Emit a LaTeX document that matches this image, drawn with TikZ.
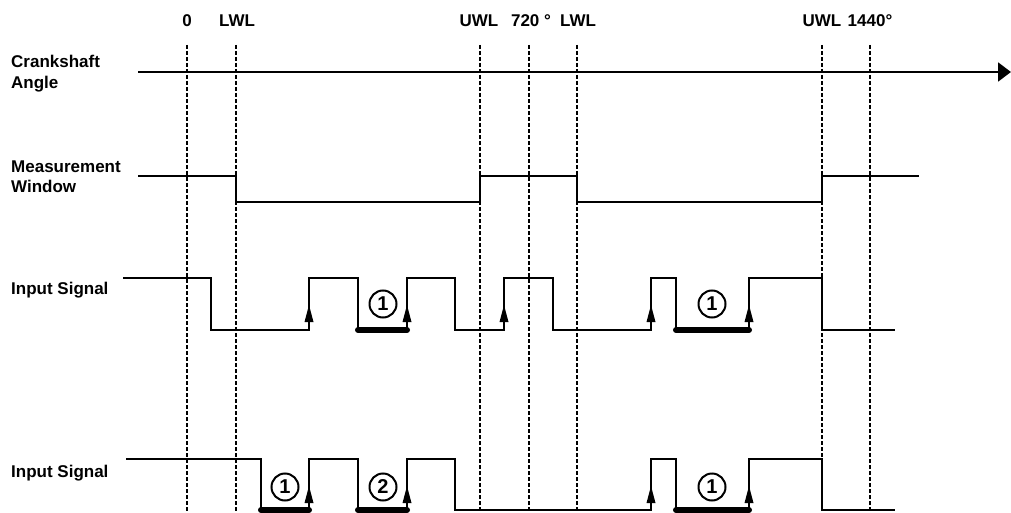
\documentclass[tikz,border=0pt]{standalone}
\usepackage{fontspec}
\setmainfont{Liberation Sans}
\usetikzlibrary{arrows.meta}
\tikzset{
  sig/.style={line width=2pt, line join=miter},
  guide/.style={line width=2pt, dash pattern=on 4pt off 2pt},
  bar/.style={line width=6pt, line cap=round},
  lbl/.style={anchor=base west, inner sep=0pt, font=\fontsize{17}{20}\selectfont\bfseries},
  toplbl/.style={anchor=base, inner sep=0pt, font=\fontsize{17}{20}\selectfont\bfseries},
  num/.style={circle, draw, line width=2pt, minimum size=27pt, inner sep=0pt, font=\fontsize{20}{22}\selectfont\bfseries},
}
\newcommand\riseArrow[2]{\fill (#1,#2) -- ++(-4.5,0) -- ++(4.5,-17) -- ++(4.5,17) -- cycle;}
\begin{document}
\begin{tikzpicture}[x=1pt,y=-1pt]
\useasboundingbox (0,0) rectangle (1011,513);
% top labels
\node[toplbl] (t0) at (187,27) {0};
\node[toplbl] (t1) at (237,27) {LWL};
\node[toplbl] (t2) at (479,27) {UWL};
\node[toplbl] (t3) at (531,27) {720 °};
\node[toplbl] (t4) at (578,27) {LWL};
\node[toplbl] (t5) at (822,27) {UWL};
\node[toplbl] (t6) at (870,27) {1440°};
% left labels
\node[lbl] (cs1) at (11,68) {Crankshaft};
\node[lbl] (cs2) at (11,89) {Angle};
\node[lbl] (mw1) at (11,172) {Measurement};
\node[lbl] (mw2) at (11,193) {Window};
\node[lbl] (is1) at (11,294) {Input Signal};
\node[lbl] (is2) at (11,477) {Input Signal};
% dashed guides
\foreach \x in {187,236,480,529,577,822,870}
  \draw[guide] (\x,45) -- (\x,511);
% crankshaft axis
\coordinate (axs) at (138,72);
\coordinate (axe) at (1011,72);
\draw[sig, -{Triangle[length=13pt,width=19pt]}] (axs) -- (axe);
% measurement window
\draw[sig] (138,176) -- (236,176) -- (236,202) -- (480,202) -- (480,176) -- (577,176)
  -- (577,202) -- (822,202) -- (822,176) -- (919,176);
% input signal 1
\draw[bar] (358,330) -- (407,330);
\draw[bar] (676,330) -- (749,330);
\draw[sig] (123,278) -- (211,278) -- (211,330) -- (309,330) -- (309,278) -- (358,278)
  -- (358,330) -- (407,330) -- (407,278) -- (455,278) -- (455,330) -- (504,330)
  -- (504,278) -- (553,278) -- (553,330) -- (651,330) -- (651,278) -- (676,278)
  -- (676,330) -- (749,330) -- (749,278) -- (822,278) -- (822,330) -- (895,330);
\foreach \x in {309,407,504,651,749} {\riseArrow{\x}{322}}
\node[num] (c1) at (383,304) {1};
\node[num] (c2) at (712,304) {1};
% input signal 2
\draw[bar] (261,510) -- (309,510);
\draw[bar] (358,510) -- (407,510);
\draw[bar] (676,510) -- (749,510);
\draw[sig] (126,459) -- (261,459) -- (261,510) -- (309,510) -- (309,459) -- (358,459)
  -- (358,510) -- (407,510) -- (407,459) -- (455,459) -- (455,510) -- (651,510)
  -- (651,459) -- (676,459) -- (676,510) -- (749,510) -- (749,459) -- (822,459)
  -- (822,510) -- (895,510);
\foreach \x in {309,407,651,749} {\riseArrow{\x}{503}}
\node[num] (c3) at (285,487) {1};
\node[num] (c4) at (383,487) {2};
\node[num] (c5) at (712,487) {1};
\end{tikzpicture}
\end{document}
